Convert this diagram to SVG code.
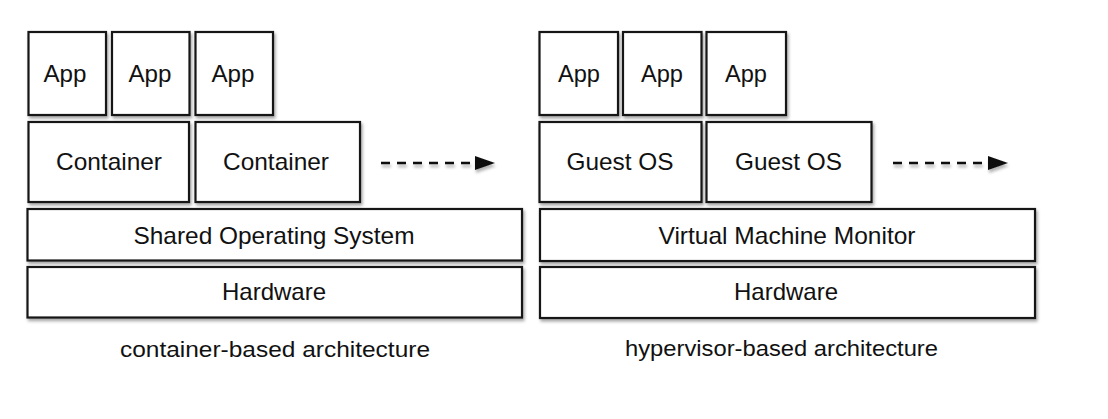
<svg xmlns="http://www.w3.org/2000/svg" width="1108" height="419" viewBox="0 0 1108 419">
<defs>
<filter id="sh" x="-10%" y="-10%" width="130%" height="140%">
<feDropShadow dx="1.5" dy="2.5" stdDeviation="1.5" flood-color="#000" flood-opacity="0.35"/>
</filter>
<filter id="shl" filterUnits="userSpaceOnUse" x="0" y="140" width="1108" height="50">
<feDropShadow dx="1" dy="3" stdDeviation="1.5" flood-color="#000" flood-opacity="0.3"/>
</filter>
<marker id="ah" markerWidth="20" markerHeight="14" refX="0" refY="7" orient="auto" markerUnits="userSpaceOnUse">
<path d="M0,0 L20,7 L0,14 Z" fill="#111"/>
</marker>
<style>
.b{fill:#fff;stroke:#151515;stroke-width:2.2;filter:url(#sh)}
.t{font-family:"Liberation Sans",Arial,Helvetica,sans-serif;font-size:24px;fill:#111;text-anchor:middle}
.c{font-family:"Liberation Sans",Arial,Helvetica,sans-serif;font-size:22px;fill:#111;text-anchor:middle}
.d{stroke:#111;stroke-width:2.5;stroke-dasharray:9 7;fill:none}
</style>
</defs>
<rect width="1108" height="419" fill="#fff"/>

<g id="left-app1"><rect class="b" x="28.5" y="32" width="77.5" height="83"/><text class="t" x="65" y="82" textLength="43" lengthAdjust="spacingAndGlyphs">App</text></g>
<g id="left-app2"><rect class="b" x="112" y="32" width="77.5" height="83"/><text class="t" x="150" y="82" textLength="43" lengthAdjust="spacingAndGlyphs">App</text></g>
<g id="left-app3"><rect class="b" x="195.5" y="32" width="77.5" height="83"/><text class="t" x="233" y="82" textLength="43" lengthAdjust="spacingAndGlyphs">App</text></g>
<g id="left-container1"><rect class="b" x="28.5" y="122" width="160.5" height="80"/><text class="t" x="109" y="170" textLength="106" lengthAdjust="spacingAndGlyphs">Container</text></g>
<g id="left-container2"><rect class="b" x="195.5" y="122" width="164.5" height="80"/><text class="t" x="276" y="170" textLength="106" lengthAdjust="spacingAndGlyphs">Container</text></g>
<g id="left-os"><rect class="b" x="27.5" y="209" width="494.5" height="51.5"/><text class="t" x="274" y="243.5" textLength="281" lengthAdjust="spacingAndGlyphs">Shared Operating System</text></g>
<g id="left-hw"><rect class="b" x="27.5" y="267" width="494.5" height="50.5"/><text class="t" x="274" y="299.5" textLength="104" lengthAdjust="spacingAndGlyphs">Hardware</text></g>

<g id="right-app1"><rect class="b" x="539.5" y="32" width="78.5" height="83"/><text class="t" x="579" y="82" textLength="42" lengthAdjust="spacingAndGlyphs">App</text></g>
<g id="right-app2"><rect class="b" x="623" y="32" width="78.5" height="83"/><text class="t" x="662" y="82" textLength="42" lengthAdjust="spacingAndGlyphs">App</text></g>
<g id="right-app3"><rect class="b" x="706.5" y="32" width="79.5" height="83"/><text class="t" x="746" y="82" textLength="42" lengthAdjust="spacingAndGlyphs">App</text></g>
<g id="right-guest1"><rect class="b" x="539.5" y="122" width="162" height="80"/><text class="t" x="620" y="170" textLength="107" lengthAdjust="spacingAndGlyphs">Guest OS</text></g>
<g id="right-guest2"><rect class="b" x="706.5" y="122" width="165" height="80"/><text class="t" x="788.5" y="170" textLength="107" lengthAdjust="spacingAndGlyphs">Guest OS</text></g>
<g id="right-vmm"><rect class="b" x="540" y="209" width="495" height="52"/><text class="t" x="787" y="243.5" textLength="257" lengthAdjust="spacingAndGlyphs">Virtual Machine Monitor</text></g>
<g id="right-hw"><rect class="b" x="540" y="267" width="495" height="51"/><text class="t" x="786" y="299.5" textLength="104" lengthAdjust="spacingAndGlyphs">Hardware</text></g>

<g id="connectors" filter="url(#shl)">
<line class="d" x1="381" y1="163" x2="475" y2="163" marker-end="url(#ah)"/>
<line class="d" x1="893" y1="163" x2="988" y2="163" marker-end="url(#ah)"/>
</g>

<text class="c" x="275" y="357" textLength="310" lengthAdjust="spacingAndGlyphs">container-based architecture</text>
<text class="c" x="781.5" y="356" textLength="313" lengthAdjust="spacingAndGlyphs">hypervisor-based architecture</text>
</svg>
